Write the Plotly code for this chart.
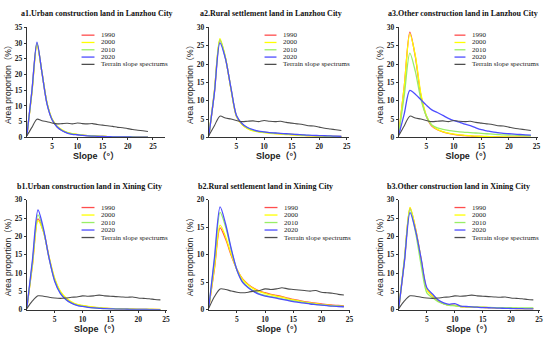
import plotly.graph_objects as go

slope = list(range(25))
years = ["1990", "2000", "2010", "2020"]
terrain_name = "Terrain slope spectrums"

lz_terrain = [0.5, 3.2, 5.8, 5.3, 5.0, 4.6, 4.3, 4.4, 4.5, 4.3, 4.6, 4.4, 4.3, 4.4, 4.1, 3.9, 3.7, 3.5, 3.2, 3.1, 2.8, 2.5, 2.3, 2.1, 1.9]
xn_terrain = [0.3, 2.4, 3.8, 3.7, 3.4, 3.2, 3.1, 3.2, 3.4, 3.5, 3.8, 3.7, 3.8, 4.0, 3.8, 3.7, 3.6, 3.5, 3.4, 3.5, 3.2, 3.1, 3.0, 2.8, 2.7]

a1_1990 = [0.5, 14.5, 29.8, 20.5, 10.8, 5.7, 3.4, 2.2, 1.5, 1.1, 0.9, 0.7, 0.55, 0.45, 0.38, 0.32, 0.27, 0.22, 0.2, 0.17, 0.15, 0.13, 0.11, 0.1, 0.08]
a1_2000 = [0.5, 14.0, 29.4, 20.6, 11.0, 5.9, 3.6, 2.4, 1.6, 1.2, 0.95, 0.75, 0.6, 0.5, 0.4, 0.34, 0.28, 0.23, 0.2, 0.17, 0.15, 0.13, 0.11, 0.1, 0.08]
a1_2010 = [0.5, 14.6, 30.0, 20.6, 10.8, 5.7, 3.4, 2.2, 1.5, 1.1, 0.9, 0.7, 0.55, 0.45, 0.38, 0.32, 0.27, 0.22, 0.2, 0.17, 0.15, 0.13, 0.11, 0.1, 0.08]
a1_2020 = [0.5, 14.8, 30.3, 20.5, 10.6, 5.6, 3.3, 2.1, 1.4, 1.0, 0.85, 0.65, 0.5, 0.42, 0.35, 0.3, 0.25, 0.2, 0.18, 0.15, 0.13, 0.12, 0.1, 0.09, 0.08]

a2_1990 = [0.5, 12.3, 26.5, 21.7, 13.3, 5.8, 3.6, 2.5, 1.9, 1.6, 1.4, 1.2, 1.1, 1.0, 0.9, 0.8, 0.7, 0.6, 0.5, 0.45, 0.4, 0.35, 0.3, 0.25, 0.25]
a2_2000 = [0.5, 12.5, 26.9, 21.8, 13.2, 5.7, 3.5, 2.4, 1.8, 1.5, 1.3, 1.1, 1.0, 0.9, 0.8, 0.7, 0.6, 0.5, 0.45, 0.4, 0.35, 0.3, 0.25, 0.2, 0.2]
a2_2010 = [0.5, 12.4, 26.6, 21.7, 13.4, 5.9, 3.7, 2.6, 2.0, 1.6, 1.45, 1.25, 1.15, 1.05, 0.95, 0.85, 0.75, 0.65, 0.55, 0.5, 0.45, 0.4, 0.35, 0.3, 0.28]
a2_2020 = [0.5, 12.0, 25.8, 21.5, 13.5, 6.0, 3.8, 2.7, 2.1, 1.7, 1.5, 1.3, 1.2, 1.1, 1.0, 0.9, 0.8, 0.7, 0.6, 0.55, 0.5, 0.45, 0.4, 0.35, 0.3]

a3_1990 = [1.0, 14.0, 28.7, 22.0, 11.5, 5.8, 3.1, 2.1, 1.5, 1.1, 0.8, 0.6, 0.5, 0.4, 0.3, 0.25, 0.2, 0.15, 0.12, 0.1, 0.08, 0.06, 0.05, 0.04, 0.03]
a3_2000 = [1.2, 14.0, 28.2, 22.3, 12.0, 6.0, 3.3, 2.2, 1.6, 1.2, 0.9, 0.7, 0.55, 0.45, 0.35, 0.3, 0.25, 0.2, 0.15, 0.12, 0.1, 0.08, 0.06, 0.05, 0.04]
a3_2010 = [1.0, 11.5, 23.0, 18.0, 10.5, 5.8, 3.4, 2.6, 2.2, 1.9, 1.7, 1.5, 1.4, 1.3, 1.2, 1.1, 1.0, 0.9, 0.8, 0.7, 0.65, 0.6, 0.55, 0.5, 0.45]
a3_2020 = [0.7, 6.5, 12.8, 11.8, 10.3, 8.8, 7.5, 6.8, 6.0, 5.2, 4.6, 4.2, 3.6, 3.2, 2.6, 2.1, 1.8, 1.5, 1.3, 1.1, 1.0, 0.9, 0.8, 0.7, 0.6]

b1_1990 = [0.5, 12.2, 24.8, 21.3, 14.2, 8.3, 4.9, 3.1, 2.0, 1.4, 1.1, 0.85, 0.65, 0.5, 0.4, 0.33, 0.27, 0.22, 0.18, 0.15, 0.12, 0.1, 0.09, 0.08, 0.07]
b1_2000 = [0.5, 12.0, 24.3, 21.2, 14.4, 8.6, 5.1, 3.3, 2.2, 1.5, 1.2, 0.9, 0.7, 0.55, 0.45, 0.37, 0.3, 0.25, 0.2, 0.16, 0.13, 0.11, 0.1, 0.09, 0.08]
b1_2010 = [0.5, 12.8, 25.9, 21.5, 14.0, 8.0, 4.7, 2.9, 1.9, 1.3, 1.0, 0.75, 0.55, 0.45, 0.35, 0.3, 0.25, 0.2, 0.16, 0.13, 0.11, 0.09, 0.08, 0.07, 0.06]
b1_2020 = [0.5, 13.5, 27.2, 22.0, 14.0, 7.8, 4.5, 2.8, 1.8, 1.2, 0.9, 0.65, 0.5, 0.4, 0.3, 0.25, 0.2, 0.17, 0.14, 0.12, 0.1, 0.08, 0.07, 0.06, 0.05]

b2_1990 = [0.5, 7.5, 14.9, 12.8, 9.8, 7.3, 5.6, 4.6, 3.9, 3.4, 3.1, 2.8, 2.6, 2.4, 2.1, 1.9, 1.7, 1.5, 1.35, 1.2, 1.05, 0.95, 0.85, 0.78, 0.7]
b2_2000 = [0.5, 7.8, 15.4, 13.2, 10.0, 7.3, 5.5, 4.5, 3.8, 3.3, 3.0, 2.7, 2.5, 2.3, 2.0, 1.8, 1.6, 1.4, 1.25, 1.1, 0.95, 0.85, 0.75, 0.7, 0.62]
b2_2010 = [0.5, 9.0, 17.7, 15.0, 10.8, 7.2, 5.1, 4.1, 3.4, 2.9, 2.6, 2.4, 2.2, 2.0, 1.8, 1.6, 1.45, 1.3, 1.15, 1.0, 0.9, 0.8, 0.7, 0.65, 0.6]
b2_2020 = [0.5, 9.5, 18.7, 15.5, 11.0, 7.2, 5.0, 4.0, 3.3, 2.8, 2.5, 2.3, 2.1, 1.9, 1.7, 1.5, 1.35, 1.2, 1.05, 0.95, 0.85, 0.75, 0.65, 0.6, 0.55]

b3_1990 = [0.5, 13.4, 27.7, 22.0, 13.5, 5.6, 3.8, 2.4, 1.7, 1.3, 1.2, 0.9, 0.8, 0.75, 0.7, 0.65, 0.6, 0.55, 0.5, 0.45, 0.4, 0.35, 0.3, 0.3, 0.3]
b3_2000 = [0.5, 13.5, 27.9, 22.0, 13.5, 5.5, 3.8, 2.4, 1.7, 1.3, 1.2, 0.9, 0.8, 0.75, 0.7, 0.65, 0.6, 0.55, 0.5, 0.45, 0.4, 0.35, 0.3, 0.3, 0.3]
b3_2010 = [0.5, 13.8, 27.4, 21.0, 12.0, 4.6, 3.3, 2.2, 1.6, 1.2, 1.1, 0.9, 0.85, 0.8, 0.75, 0.7, 0.65, 0.6, 0.6, 0.55, 0.55, 0.5, 0.5, 0.5, 0.5]
b3_2020 = [0.5, 13.0, 26.5, 21.5, 13.8, 6.0, 4.3, 2.7, 1.9, 1.5, 1.7, 1.0, 0.9, 0.8, 0.7, 0.6, 0.55, 0.5, 0.45, 0.4, 0.35, 0.3, 0.3, 0.25, 0.25]

titles = [
    "a1.Urban construction land in Lanzhou City",
    "a2.Rural settlement land in Lanzhou City",
    "a3.Other construction land in Lanzhou City",
    "b1.Urban construction land in Xining City",
    "b2.Rural settlement land in Xining City",
    "b3.Other construction land in Xining City",
]
y_max = [35, 30, 30, 30, 20, 30]
x_max = [27.4, 25.4, 25.3, 25.2, 25.1, 25.2]

colors = ["#ff4d4d", "#ffff00", "#99ee66", "#4d4dff", "#4d4d4d"]

panel_series = [
    [a1_1990, a1_2000, a1_2010, a1_2020, lz_terrain],
    [a2_1990, a2_2000, a2_2010, a2_2020, lz_terrain],
    [a3_1990, a3_2000, a3_2010, a3_2020, lz_terrain],
    [b1_1990, b1_2000, b1_2010, b1_2020, xn_terrain],
    [b2_1990, b2_2000, b2_2010, b2_2020, xn_terrain],
    [b3_1990, b3_2000, b3_2010, b3_2020, xn_terrain],
]

W, H = 550, 344
# plot areas in pixels: (left, right, top, bottom)
px_boxes = [
    (27, 166, 24, 137), (210, 351, 24, 137), (401, 541, 24, 137),
    (27, 168, 201, 314), (210, 352, 201, 314), (401, 543, 201, 314),
]
title_pos = [(98, 10), (272, 10), (466, 10), (90, 187), (267, 187), (461, 187)]
# legend: (line start x, text start x, first row y, row step)
legend_pos = [(82, 100, 32, 7.5), (266, 283, 32, 7.5), (457, 473, 32, 7.5),
              (82, 100, 209, 7.7), (266, 284, 209, 7.7), (457, 473, 209, 7.7)]

fig = go.Figure()
layout = dict(
    width=W, height=H, margin=dict(l=0, r=0, t=0, b=0),
    paper_bgcolor="white", plot_bgcolor="white", showlegend=False,
    annotations=[], shapes=[],
)

serif = "Liberation Serif, Times New Roman, serif"
sans = "Liberation Sans, Noto Sans CJK SC, Arial, sans-serif"
names = years + [terrain_name]

for i in range(6):
    k = "" if i == 0 else str(i + 1)
    for s, (name, vals) in enumerate(zip(names, panel_series[i])):
        fig.add_trace(go.Scatter(
            x=slope, y=vals, name=name, mode="lines",
            line=dict(color=colors[s], width=1.3 if s < 4 else 1.1, shape="spline", smoothing=0.8),
            xaxis="x" + k, yaxis="y" + k,
        ))
    l, r, t, b = px_boxes[i]
    layout["xaxis" + k] = dict(
        domain=[l / W, r / W], range=[0, x_max[i]], anchor="y" + k,
        tickvals=[5, 10, 15, 20, 25], showgrid=False, zeroline=False,
        showline=True, linecolor="#333", linewidth=1, ticks="outside", ticklen=2,
        tickcolor="#333", ticklabeloverflow="allow",
        tickfont=dict(family=serif, size=7.5, color="#222", weight="bold"),
        title=dict(text="Slope（°）", font=dict(family=sans, size=9, color="#222", weight="bold"), standoff=2),
    )
    layout["yaxis" + k] = dict(
        domain=[(H - b) / H, (H - t) / H], range=[0, y_max[i]], anchor="x" + k,
        dtick=5, showgrid=False, zeroline=False,
        showline=True, linecolor="#333", linewidth=1, ticks="outside", ticklen=2,
        tickcolor="#333", ticklabeloverflow="allow",
        tickfont=dict(family=serif, size=7.5, color="#222", weight="bold"),
        title=dict(text="Area proportion（%）", font=dict(family=sans, size=8.5, color="#222"), standoff=1),
    )
    tx, ty = title_pos[i]
    layout["annotations"].append(dict(
        text=titles[i], x=tx / W, y=(H - ty) / H,
        xref="paper", yref="paper", showarrow=False, xanchor="center", yanchor="middle",
        font=dict(family=serif, size=8, color="#111", weight="bold"),
    ))
    # per-panel legend (line sample + label)
    lx0, ltx, ly0, step = legend_pos[i]
    for s, name in enumerate(names):
        yy = (H - (ly0 + s * step)) / H
        layout["shapes"].append(dict(
            type="line", xref="paper", yref="paper",
            x0=lx0 / W, x1=(ltx - 5) / W, y0=yy, y1=yy,
            line=dict(color=colors[s], width=1.3),
        ))
        layout["annotations"].append(dict(
            text=name, x=ltx / W, y=yy, xref="paper", yref="paper",
            showarrow=False, xanchor="left", yanchor="middle",
            font=dict(family=serif, size=7, color="#222"),
        ))

fig.update_layout(**layout)
fig.write_html(
    "out.html",
    config={"displayModeBar": False},
    post_script="document.body.style.margin='0';document.body.style.overflow='hidden';",
)
